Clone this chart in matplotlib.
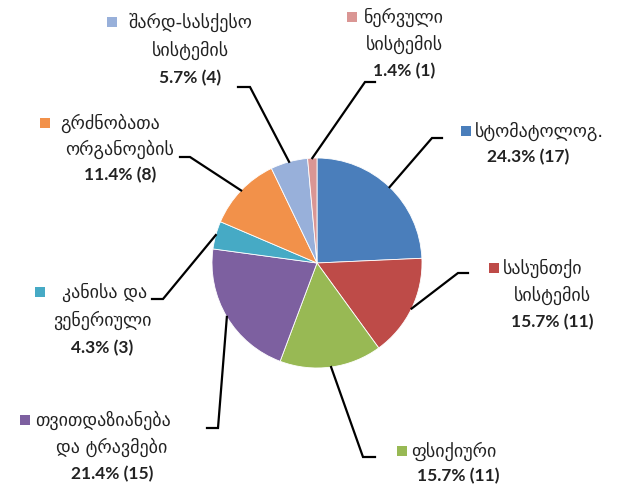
import numpy as np
import matplotlib
matplotlib.use("Agg")
import matplotlib.pyplot as plt

# categories (Georgian labels), counts and colours
names = ["სტომატოლოგ.", "სასუნთქი\nსისტემის", "ფსიქიური",
         "თვითდაზიანება\nდა ტრავმები", "კანისა და\nვენერიული",
         "გრძნობათა\nორგანოების", "შარდ-სასქესო\nსისტემის",
         "ნერვული\nსისტემის"]
counts = [17, 11, 11, 15, 3, 8, 4, 1]
colors = ["#4A7EBB", "#BE4B48", "#98B954", "#7D60A0",
          "#46AAC5", "#F2914A", "#98B0DA", "#DA9694"]

W, H = 621, 493
cx, cy, R = 317, 263, 105

# label layout in pixel coords (y down): square key, first line x (left),
# centre x for other lines, first line y, line pitch
key_xy = [(461, 131), (489, 268), (397, 451), (20, 420),
          (35, 292), (40, 123), (107, 22), (347, 17)]
first_x = [475, 503, 411, 35, 62, 60, 128, 364]
block_cx = [528, 552, 458, 112, 102, 120, 190, 404]
pitch = [26, 27, 25, 27, 28, 26, 28, 27]
elbow = [(432, 138), (458, 273), (363, 457), (218, 428),
         (163, 299), (190, 157), (250, 87), (365, 82)]
leader_end = [(442, 138), (468, 273), (375, 457), (207, 428),
              (152, 299), (180, 157), (238, 87), (375, 82)]


def P(x, y):
    return x, H - y


fig = plt.figure(figsize=(W / 100, H / 100), dpi=100)
ax = fig.add_axes([0, 0, 1, 1])

ax.pie(counts, colors=colors, startangle=90, counterclock=False,
       center=P(cx, cy), radius=R, frame=True,
       wedgeprops=dict(edgecolor="white", linewidth=0.6))
ax.set_xlim(0, W)
ax.set_ylim(0, H)
ax.set_aspect("equal")
ax.axis("off")

total = sum(counts)
cum = np.cumsum([0] + counts)
geo_font = "DejaVu Sans"
num_font = ["Lato", "DejaVu Sans"]

for i, name in enumerate(names):
    # leader line from the wedge's middle to the label
    mid = 90 - (cum[i] + counts[i] / 2) / total * 360
    sx = cx + R * np.cos(np.radians(mid))
    sy = cy - R * np.sin(np.radians(mid))
    xs = [sx, elbow[i][0], leader_end[i][0]]
    ys = [H - sy, H - elbow[i][1], H - leader_end[i][1]]
    ax.plot(xs, ys, color="black", lw=1.6, solid_joinstyle="miter")

    lines = name.split("\n")
    kx, ky = key_xy[i]
    ax.scatter([kx + 5], [H - ky], marker="s", s=52, color=colors[i],
               linewidths=0)
    ax.text(first_x[i], H - ky, lines[0], fontsize=13, family=geo_font,
            ha="left", va="center", color="#222222")
    y = ky
    for ln in lines[1:]:
        y += pitch[i]
        ax.text(block_cx[i], H - y, ln, fontsize=13, family=geo_font,
                ha="center", va="center", color="#222222")
    y += pitch[i]
    pct = f"{counts[i] / total * 100:.1f}% ({counts[i]})"
    ax.text(block_cx[i], H - y, pct, fontsize=12.5, family=num_font,
            fontweight="bold", ha="center", va="center", color="#222222")

fig.savefig("out.png", dpi=100, facecolor="white")
